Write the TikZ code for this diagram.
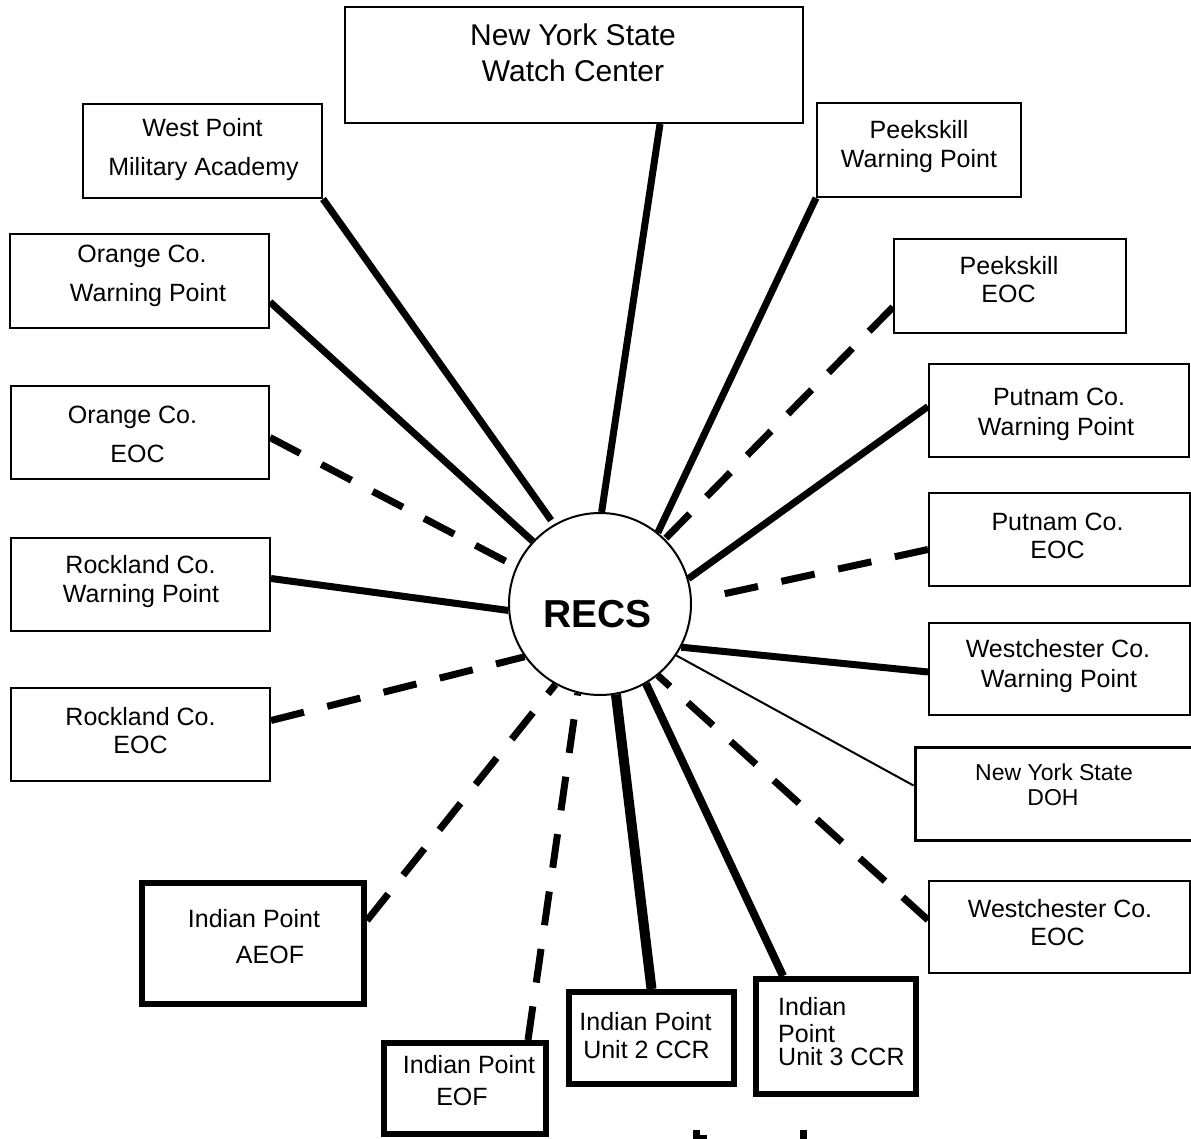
\documentclass[tikz,border=0pt]{standalone}
\usepackage{fontspec}
\setmainfont{Liberation Sans}
\usetikzlibrary{backgrounds}
\begin{document}
\begin{tikzpicture}[x=1pt,y=-1pt,
  box/.style={draw, fill=white, line width=2pt, inner sep=0pt},
  ipbox/.style={draw, fill=white, line width=6pt, inner sep=0pt},
  txt/.style={anchor=base, inner sep=0pt, font=\fontsize{25}{30}\selectfont},
  ltxt/.style={anchor=base west, inner sep=0pt, font=\fontsize{25}{30}\selectfont},
  bigtxt/.style={anchor=base, inner sep=0pt, font=\fontsize{30}{36}\selectfont},
  smalltxt/.style={anchor=base, inner sep=0pt, font=\fontsize{23}{28}\selectfont},
  solidc/.style={line width=7pt},
  dashc/.style={line width=7pt, dash pattern=on 34pt off 24pt},
]
\useasboundingbox (0,0) rectangle (1191,1139);

% boxes
\node[box, minimum width=458pt, minimum height=116pt] (wc) at (574,65) {};
\node[box, minimum width=239pt, minimum height=94pt] (wp) at (202.5,151) {};
\node[box, minimum width=259pt, minimum height=94pt] (owp) at (139.5,281) {};
\node[box, minimum width=258pt, minimum height=93pt] (oeoc) at (140,432.5) {};
\node[box, minimum width=259pt, minimum height=93pt] (rwp) at (140.5,584.5) {};
\node[box, minimum width=259pt, minimum height=93pt] (reoc) at (140.5,734.5) {};
\node[box, minimum width=204pt, minimum height=94pt] (pwp) at (919,150) {};
\node[box, minimum width=232pt, minimum height=94pt] (peoc) at (1010,286) {};
\node[box, minimum width=260pt, minimum height=93pt] (puwp) at (1059,410.5) {};
\node[box, minimum width=261pt, minimum height=93pt] (pueoc) at (1059.5,539.5) {};
\node[box, minimum width=261pt, minimum height=92pt] (wwp) at (1059.5,669) {};
\node[box, line width=3pt, minimum width=285pt, minimum height=93pt] (doh) at (1057.5,793.5) {};
\node[box, minimum width=261pt, minimum height=92pt] (weoc) at (1059.5,927) {};
\node[ipbox, minimum width=222pt, minimum height=121pt] (aeof) at (253,943.5) {};
\node[ipbox, minimum width=162pt, minimum height=91pt] (eof) at (465,1088.5) {};
\node[ipbox, minimum width=165pt, minimum height=92pt] (u2) at (651.5,1038) {};
\node[ipbox, minimum width=160pt, minimum height=115pt] (u3) at (836,1036.5) {};
\node[circle, draw, fill=white, line width=2pt, minimum size=182pt, inner sep=0pt] (recs) at (600,604) {};

% connectors
\begin{scope}[on background layer]
\draw[solidc] ([xshift=86pt]wc.south) -- (recs.89);
\draw[solidc, shorten >=5pt] (wp.south east) -- (recs.120);
\draw[solidc] ([yshift=-21pt]owp.east) -- (recs.137);
\draw[dashc] ([yshift=-5pt]oeoc.east) -- (recs.156);
\draw[solidc] ([yshift=6pt]rwp.east) -- (recs.184);
\draw[dashc] ([yshift=14pt]reoc.east) -- (recs.215);
\draw[dashc] ([yshift=23pt]aeof.east) -- (recs.241);
\draw[dashc] ([xshift=63pt]eof.north) -- (recs.256);
\draw[line width=10pt] (u2.north) -- (recs.280);
\draw[line width=8pt] ([xshift=-53pt]u3.north) -- (recs.300);
\draw[dashc] ([yshift=7pt]weoc.west) -- (recs.309);
\draw[line width=2pt] ([yshift=8pt]doh.west) -- (recs.326);
\draw[solidc] ([yshift=-3pt]wwp.west) -- (recs.332);
\draw[dashc, shorten >=18pt] ([yshift=-10pt]pueoc.west) -- (recs.2);
\draw[solidc] ([yshift=4pt]puwp.west) -- (recs.16);
\draw[dashc] ([yshift=-21pt]peoc.west) -- (recs.45);
\draw[solidc] (pwp.south west) -- (recs.51);
\end{scope}

% texts
\node[bigtxt] (wcA) at (573,46) {New York State};
\node[bigtxt] (wcB) at (573,82) {Watch Center};
\node[txt] (wpA) at (202.5,137) {West Point};
\node[txt] (wpB) at (203.5,176) {Military Academy};
\node[txt] (owpA) at (142,263) {Orange Co.};
\node[txt] (owpB) at (148,302) {Warning Point};
\node[txt] (oeocA) at (132.5,423) {Orange Co.};
\node[txt] (oeocB) at (137.5,462) {EOC};
\node[txt] (rwpA) at (140.5,573) {Rockland Co.};
\node[txt] (rwpB) at (141,602) {Warning Point};
\node[txt] (reocA) at (140.5,725) {Rockland Co.};
\node[txt] (reocB) at (140.5,753) {EOC};
\node[txt] (pwpA) at (919,139) {Peekskill};
\node[txt] (pwpB) at (919,168) {Warning Point};
\node[txt] (peocA) at (1009,275) {Peekskill};
\node[txt] (peocB) at (1008.5,303) {EOC};
\node[txt] (puwpA) at (1059,405) {Putnam Co.};
\node[txt] (puwpB) at (1056,435) {Warning Point};
\node[txt] (pueocA) at (1057.5,530) {Putnam Co.};
\node[txt] (pueocB) at (1057.5,558) {EOC};
\node[txt] (wwpA) at (1058,657) {Westchester Co.};
\node[txt] (wwpB) at (1059,687) {Warning Point};
\node[smalltxt] (dohA) at (1054,780) {New York State};
\node[smalltxt] (dohB) at (1053,805) {DOH};
\node[txt] (weocA) at (1060,917) {Westchester Co.};
\node[txt] (weocB) at (1057.5,945) {EOC};
\node[txt] (aeofA) at (254,927) {Indian Point};
\node[txt] (aeofB) at (270,963) {AEOF};
\node[txt] (eofA) at (469,1073) {Indian Point};
\node[txt] (eofB) at (462,1105) {EOF};
\node[txt] (u2A) at (645.5,1030) {Indian Point};
\node[txt] (u2B) at (646.5,1058) {Unit 2 CCR};
\node[ltxt] (u3A) at (778,1015) {Indian};
\node[ltxt] (u3B) at (778,1042) {Point};
\node[ltxt] (u3C) at (778,1065) {Unit 3 CCR};
\node[anchor=base, inner sep=0pt, font=\bfseries\fontsize{39}{44}\selectfont] (recsT) at (597.5,627) {RECS};

% cut-off marks at the bottom edge
\fill (693,1130) rectangle (700,1139);
\fill (693,1135) rectangle (707,1139);
\fill (800,1130) rectangle (807,1139);
\end{tikzpicture}
\end{document}
